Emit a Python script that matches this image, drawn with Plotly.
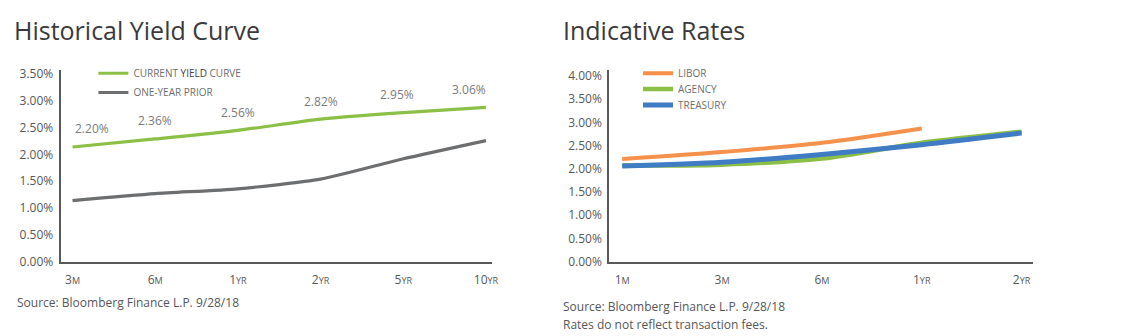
import plotly.graph_objects as go

W, H = 1129, 336

# ---------------- data ----------------
hist_terms = ["3M", "6M", "1YR", "2YR", "5YR", "10YR"]
hist_ticktext = ["3<span style='font-size:9px'>M</span>",
                 "6<span style='font-size:9px'>M</span>",
                 "1<span style='font-size:9px'>YR</span>",
                 "2<span style='font-size:9px'>YR</span>",
                 "5<span style='font-size:9px'>YR</span>",
                 "10<span style='font-size:9px'>YR</span>"]
current_curve = [2.14, 2.29, 2.45, 2.66, 2.78, 2.88]
one_year_prior = [1.14, 1.27, 1.36, 1.54, 1.92, 2.26]
current_labels = ["2.20%", "2.36%", "2.56%", "2.82%", "2.95%", "3.06%"]

rate_terms = ["1M", "3M", "6M", "1YR", "2YR"]
rate_ticktext = ["1<span style='font-size:9px'>M</span>",
                 "3<span style='font-size:9px'>M</span>",
                 "6<span style='font-size:9px'>M</span>",
                 "1<span style='font-size:9px'>YR</span>",
                 "2<span style='font-size:9px'>YR</span>"]
libor = [2.21, 2.36, 2.56, 2.87, None]
agency = [2.07, 2.09, 2.22, 2.56, 2.80]
treasury = [2.06, 2.14, 2.31, 2.52, 2.77]

# ---------------- style ----------------
FONT = "Open Sans"
GREEN = "#8cbf45"
GRAY = "#6d6e70"
ORANGE = "#f5914a"
BLUE = "#3f7cc3"
AXIS = "#58595b"
TXT = "#555759"


def px_x(p):
    return p / W


def px_y(p):
    return 1 - p / H


fig = go.Figure()

x_idx_h = list(range(len(hist_terms)))
x_idx_r = list(range(len(rate_terms)))

fig.add_trace(go.Scatter(x=x_idx_h, y=current_curve, mode="lines",
                         name="CURRENT <span style='color:#3f4042'>YIELD</span> CURVE",
                         line=dict(color=GREEN, width=3.2, shape="spline", smoothing=0.6),
                         xaxis="x", yaxis="y", legend="legend"))
fig.add_trace(go.Scatter(x=x_idx_h, y=one_year_prior, mode="lines", name="ONE-YEAR PRIOR",
                         line=dict(color=GRAY, width=3.2, shape="spline", smoothing=0.6),
                         xaxis="x", yaxis="y", legend="legend2"))

fig.add_trace(go.Scatter(x=x_idx_r, y=libor, mode="lines", name="LIBOR",
                         line=dict(color=ORANGE, width=4, shape="spline", smoothing=0.8),
                         xaxis="x2", yaxis="y2", legend="legend3"))
fig.add_trace(go.Scatter(x=x_idx_r, y=agency, mode="lines", name="AGENCY",
                         line=dict(color=GREEN, width=4.5, shape="spline", smoothing=0.8),
                         xaxis="x2", yaxis="y2", legend="legend4"))
fig.add_trace(go.Scatter(x=x_idx_r, y=treasury, mode="lines", name="TREASURY",
                         line=dict(color=BLUE, width=5, shape="spline", smoothing=0.8),
                         xaxis="x2", yaxis="y2", legend="legend5"))

annotations = []
n = len(current_labels)
for i, (v, lab) in enumerate(zip(current_curve, current_labels)):
    if i == 0:
        xa, xs = "left", 0
    elif i == n - 1:
        xa, xs = "right", 2
    elif i == n - 2:
        xa, xs = "center", -6
    else:
        xa, xs = "center", 0
    annotations.append(dict(x=i, y=v, xref="x", yref="y", text=lab, showarrow=False,
                            xanchor=xa, yanchor="middle", yshift=18, xshift=xs,
                            font=dict(family=FONT, size=12, color="#7a7b7d")))

# titles
annotations.append(dict(x=px_x(12), y=px_y(26), xref="paper", yref="paper", text="Historical Yield Curve",
                        showarrow=False, xanchor="left", yanchor="middle",
                        font=dict(family=FONT, size=25, color="#3a3a3c")))
annotations.append(dict(x=px_x(564), y=px_y(26), xref="paper", yref="paper", text="Indicative Rates",
                        showarrow=False, xanchor="left", yanchor="middle",
                        font=dict(family=FONT, size=25, color="#3a3a3c")))
# sources
annotations.append(dict(x=px_x(15), y=px_y(309), xref="paper", yref="paper",
                        text="Source: Bloomberg Finance L.P. 9/28/18",
                        showarrow=False, xanchor="left", yanchor="middle",
                        font=dict(family=FONT, size=12, color=TXT)))
annotations.append(dict(x=px_x(565), y=px_y(314), xref="paper", yref="paper",
                        text="Source: Bloomberg Finance L.P. 9/28/18",
                        showarrow=False, xanchor="left", yanchor="middle",
                        font=dict(family=FONT, size=12, color=TXT)))
annotations.append(dict(x=px_x(565), y=px_y(332), xref="paper", yref="paper",
                        text="Rates do not reflect transaction fees.",
                        showarrow=False, xanchor="left", yanchor="middle",
                        font=dict(family=FONT, size=12, color=TXT)))

axis_common = dict(showgrid=False, zeroline=False, showline=True, linecolor=AXIS, linewidth=2,
                   tickfont=dict(family=FONT, size=12, color=TXT), ticks="outside",
                   tickcolor="rgba(0,0,0,0)", fixedrange=True)

legend_common = dict(xanchor="left", yanchor="middle", bgcolor="rgba(0,0,0,0)",
                     font=dict(family=FONT, size=10, color="#6d6e70"), itemwidth=30)

fig.update_layout(
    width=W, height=H, margin=dict(l=0, r=0, t=0, b=0),
    paper_bgcolor="white", plot_bgcolor="white",
    font=dict(family=FONT, color=TXT),
    showlegend=True,
    xaxis=dict(domain=[px_x(61), px_x(495)], range=[-0.144, 5.072], tickmode="array",
               tickvals=x_idx_h, ticktext=hist_ticktext, anchor="y", ticklen=6, **axis_common),
    yaxis=dict(domain=[px_y(267), px_y(68)], range=[0, 3.57], dtick=0.5, tickformat=".2f",
               ticksuffix="%", anchor="x", ticklen=3, **axis_common),
    xaxis2=dict(domain=[px_x(613), px_x(1039)], range=[-0.13, 4.11], tickmode="array",
                tickvals=x_idx_r, ticktext=rate_ticktext, anchor="y2", ticklen=6, **axis_common),
    yaxis2=dict(domain=[px_y(267), px_y(68)], range=[0, 4.12], dtick=0.5, tickformat=".2f",
                ticksuffix="%", anchor="x2", ticklen=3, **axis_common),
    legend=dict(x=px_x(94), y=px_y(71), **legend_common),
    legend2=dict(x=px_x(94), y=px_y(91), **legend_common),
    legend3=dict(x=px_x(642), y=px_y(71), **legend_common),
    legend4=dict(x=px_x(642), y=px_y(87.5), **legend_common),
    legend5=dict(x=px_x(642), y=px_y(104), **legend_common),
    annotations=annotations,
)

fig.write_html("out.html")
